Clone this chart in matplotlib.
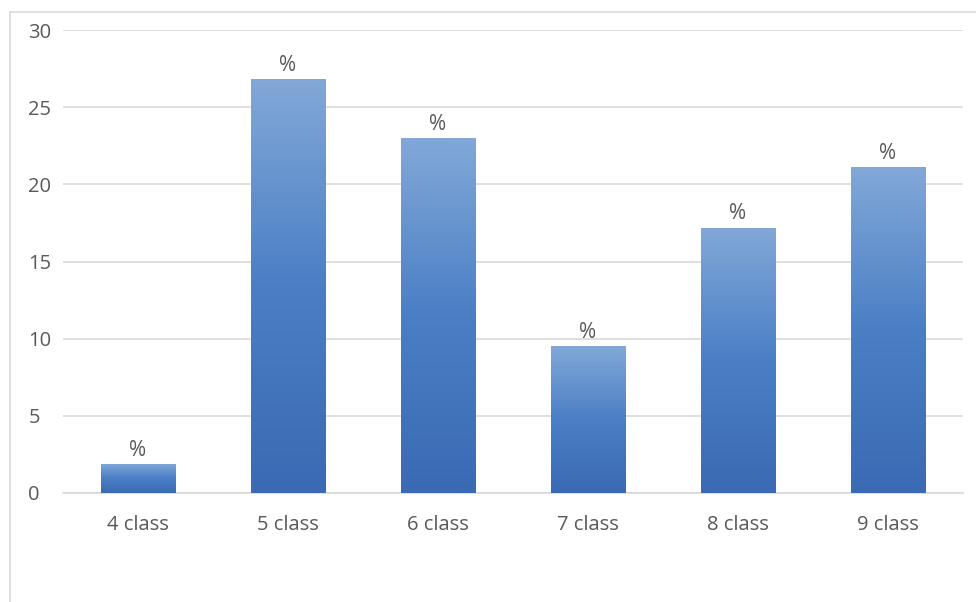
import matplotlib
matplotlib.use('Agg')
import matplotlib.pyplot as plt
import numpy as np
from matplotlib.colors import LinearSegmentedColormap
from matplotlib.lines import Line2D

categories = ['4 class', '5 class', '6 class', '7 class', '8 class', '9 class']
values = [1.9, 26.8, 23.0, 9.5, 17.2, 21.1]
labels = ['%', '%', '%', '%', '%', '%']
yticks = [0, 5, 10, 15, 20, 25, 30]


def main():
    plt.rcParams['font.family'] = ['Open Sans', 'DejaVu Sans']
    W, H = 976, 602
    fig = plt.figure(figsize=(W / 100, H / 100), dpi=100, facecolor='white')

    # outer chart frame (left and top edges visible)
    fig.add_artist(Line2D([10 / W, 10 / W], [0, 1 - 12 / H], transform=fig.transFigure,
                          color='#d9d9d9', lw=1.2))
    fig.add_artist(Line2D([10 / W, 1], [1 - 12 / H, 1 - 12 / H], transform=fig.transFigure,
                          color='#d9d9d9', lw=1.2))

    ax = fig.add_axes([63 / W, (H - 493) / H, 900 / W, (493 - 30) / H])

    cmap = LinearSegmentedColormap.from_list(
        'bar', [(0.0, '#3a6ab3'), (0.5, '#4a7fc5'), (1.0, '#82a8d8')])
    grad = np.linspace(0, 1, 256).reshape(-1, 1)
    width = 0.5
    x = np.arange(len(categories))
    bars = ax.bar(x, values, width=width, color='none', edgecolor='none', zorder=3)
    for b, v, lab in zip(bars, values, labels):
        x0 = b.get_x()
        im = ax.imshow(grad, cmap=cmap, origin='lower', aspect='auto',
                       extent=(x0, x0 + width, 0, v), zorder=3)
        im.set_clip_path(b)
        ax.text(b.get_x() + width / 2, v + 0.2, lab, ha='center', va='bottom',
                fontsize=15, color='#595959', zorder=4)
    ax.set_xlim(-0.5, len(categories) - 0.5)
    ax.set_ylim(0, 30)

    ax.set_yticks(yticks)
    ax.set_xticks(x)
    ax.set_xticklabels(categories)
    ax.yaxis.grid(True, color='#d9d9d9', lw=1.2, zorder=0)
    ax.set_axisbelow(True)
    for s in ax.spines.values():
        s.set_visible(False)
    ax.spines['bottom'].set_visible(True)
    ax.spines['bottom'].set_color('#d9d9d9')
    ax.spines['bottom'].set_linewidth(1.2)
    ax.tick_params(axis='both', length=0, labelsize=14.5, labelcolor='#595959')
    ax.tick_params(axis='x', pad=16)
    for t in ax.get_yticklabels():
        t.set_horizontalalignment('left')
    ax.tick_params(axis='y', pad=25)

    fig.savefig('out.png', dpi=100, facecolor='white')


if __name__ == '__main__':
    main()
